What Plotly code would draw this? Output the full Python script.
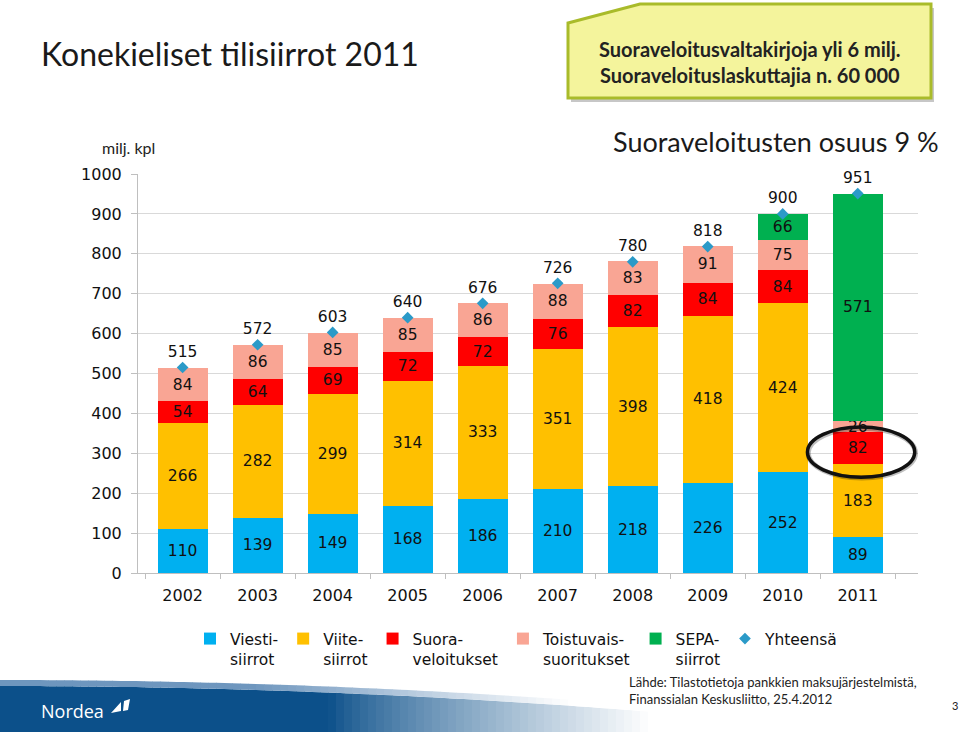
import plotly.graph_objects as go

# ---------------- data ----------------
years = ['2002', '2003', '2004', '2005', '2006', '2007', '2008', '2009', '2010', '2011']
viesti = [110, 139, 149, 168, 186, 210, 218, 226, 252, 89]
viite = [266, 282, 299, 314, 333, 351, 398, 418, 424, 183]
suora = [54, 64, 69, 72, 72, 76, 82, 84, 84, 82]
toistuvais = [84, 86, 85, 85, 86, 88, 83, 91, 75, 26]
sepa = [None, None, None, None, None, None, None, None, 66, 571]
yhteensa = [515, 572, 603, 640, 676, 726, 780, 818, 900, 951]

series_names = ['Viesti-<br>siirrot', 'Viite-<br>siirrot', 'Suora-<br>veloitukset',
                'Toistuvais-<br>suoritukset', 'SEPA-<br>siirrot']
series_colors = ['#00B0F0', '#FFC000', '#FF0000', '#F9A594', '#00B050']
total_name = 'Yhteensä'
total_color = '#2B9AC8'

# ---------------- geometry helpers (pixel -> paper) ----------------
L, R, T, B = 138, 918, 174, 573
W, H = 960, 732


def px(x):
    return (x - L) / (R - L)


def py(y):
    return (B - y) / (B - T)


CHART_FONT = 'DejaVu Sans'
TEXT_FONT = 'Lato'

fig = go.Figure()

for name, vals, col in zip(series_names, [viesti, viite, suora, toistuvais, sepa], series_colors):
    fig.add_trace(go.Bar(
        x=years, y=vals, name=name, marker=dict(color=col, line=dict(width=0)),
        text=vals, texttemplate='%{y}', textposition='inside', insidetextanchor='middle',
        textangle=0, insidetextfont=dict(color='#111111', size=15.5, family=CHART_FONT),
        constraintext='none', hoverinfo='skip',
    ))

# totals: markers (legend) + labels
fig.add_trace(go.Scatter(
    x=years, y=yhteensa, name=total_name, mode='markers',
    marker=dict(symbol='diamond', size=9, color=total_color), cliponaxis=False,
))
fig.add_trace(go.Scatter(
    x=years, y=yhteensa, mode='markers+text', showlegend=False,
    marker=dict(symbol='diamond', size=9, color='rgba(0,0,0,0)'),
    text=[str(v) for v in yhteensa], textposition='top center',
    textfont=dict(size=15.5, color='#111111', family=CHART_FONT), cliponaxis=False,
))

shapes = []

# Nordea footer band (gradient strips)
dark = (12, 80, 138)
step = 8
for x0 in range(0, 680, step):
    x1 = x0 + step
    xm = (x0 + x1) / 2
    t = min(max((xm - 330) / 320, 0), 1)
    t = t ** 0.8
    col = tuple(int(dark[i] + (255 - dark[i]) * t) for i in range(3))
    ytop0 = 686 + 14 * (x0 / 480) ** 2
    ytop1 = 686 + 14 * (x1 / 480) ** 2
    path = 'M {} {} L {} {} L {} {} L {} {} Z'.format(
        px(x0), py(ytop0), px(x1 + 0.5), py(ytop1), px(x1 + 0.5), py(H + 2), px(x0), py(H + 2))
    shapes.append(dict(type='path', xref='paper', yref='paper', path=path,
                       fillcolor='rgb({},{},{})'.format(*col), line=dict(width=0), layer='below'))
    # light rim on top of the band
    lt = min(max((xm - 250) / 320, 0), 1)
    lc = tuple(int(v + (255 - v) * lt) for v in (110, 150, 190))
    path2 = 'M {} {} L {} {} L {} {} L {} {} Z'.format(
        px(x0), py(ytop0 - 6), px(x1 + 0.5), py(ytop1 - 6), px(x1 + 0.5), py(ytop1), px(x0), py(ytop0))
    shapes.append(dict(type='path', xref='paper', yref='paper', path=path2,
                       fillcolor='rgb({},{},{})'.format(*lc), line=dict(width=0), layer='below'))

# Nordea sail logo
sail = 'M {} {} L {} {} L {} {} Z M {} {} L {} {} L {} {} L {} {} Z'.format(
    px(111), py(713), px(121), py(702), px(121), py(711),
    px(123), py(711), px(124), py(701), px(130), py(699), px(128), py(710))
shapes.append(dict(type='path', xref='paper', yref='paper', path=sail,
                   fillcolor='white', line=dict(width=0)))

# callout box (shadow + box)
def callout(dx, dy):
    pts = [(568, 23), (640, 4), (931, 4), (931, 98), (568, 98)]
    return 'M ' + ' L '.join('{} {}'.format(px(x + dx), py(y + dy)) for x, y in pts) + ' Z'


shapes.append(dict(type='path', xref='paper', yref='paper', path=callout(3, 4),
                   fillcolor='rgba(0,0,0,0.22)', line=dict(width=0)))
shapes.append(dict(type='path', xref='paper', yref='paper', path=callout(0, 0),
                   fillcolor='#F4F49C', line=dict(color='#A9BB2A', width=3)))

# ellipse highlight around 2011 Suora value
shapes.append(dict(type='circle', xref='x', yref='y', x0=8.34, x1=9.77, y0=238, y1=363,
                   line=dict(color='rgba(0,0,0,0.25)', width=5)))
shapes.append(dict(type='circle', xref='x', yref='y', x0=8.33, x1=9.76, y0=240, y1=366,
                   line=dict(color='#111111', width=3.5)))

annotations = [
    dict(text='Konekieliset tilisiirrot 2011', x=px(39), y=py(53), xref='paper', yref='paper',
         xanchor='left', yanchor='middle', showarrow=False,
         font=dict(family=TEXT_FONT, size=32, color='#1a1a1a')),
    dict(text='<b>Suoraveloitusvaltakirjoja yli 6 milj.<br>Suoraveloituslaskuttajia n. 60 000</b>',
         x=px(750), y=py(62), xref='paper', yref='paper', xanchor='center', yanchor='middle',
         showarrow=False, align='center',
         font=dict(family=TEXT_FONT, size=20, color='#222222')),
    dict(text='milj. kpl', x=px(100), y=py(148), xref='paper', yref='paper',
         xanchor='left', yanchor='middle', showarrow=False,
         font=dict(family=TEXT_FONT, size=16, color='#222222')),
    dict(text='Suoraveloitusten osuus 9 %', x=px(941), y=py(141), xref='paper', yref='paper',
         xanchor='right', yanchor='middle', showarrow=False,
         font=dict(family=TEXT_FONT, size=27, color='#1a1a1a')),
    dict(text='Lähde: Tilastotietoja pankkien maksujärjestelmistä,<br>Finanssialan Keskusliitto, 25.4.2012',
         x=px(627), y=py(690), xref='paper', yref='paper', xanchor='left', yanchor='middle',
         showarrow=False, align='left',
         font=dict(family=TEXT_FONT, size=13, color='#222222')),
    dict(text='Nordea', x=px(39), y=py(711), xref='paper', yref='paper', xanchor='left',
         yanchor='middle', showarrow=False,
         font=dict(family='Open Sans', size=18, color='white')),
    dict(text='3', x=px(955), y=py(705), xref='paper', yref='paper', xanchor='center',
         yanchor='middle', showarrow=False,
         font=dict(family=TEXT_FONT, size=11, color='#222222')),
]

fig.update_layout(
    width=W, height=H,
    margin=dict(l=L, r=W - R, t=T, b=H - B, autoexpand=False),
    paper_bgcolor='white', plot_bgcolor='white',
    barmode='stack', bargap=0.33,
    uniformtext=dict(mode='show', minsize=15.5),
    font=dict(family=CHART_FONT, size=15, color='#111111'),
    showlegend=True,
    legend=dict(orientation='h', x=px(190), y=py(622), xanchor='left', yanchor='top',
                valign='top', font=dict(family=CHART_FONT, size=15.5, color='#111111'),
                bgcolor='rgba(0,0,0,0)', traceorder='normal', itemwidth=30),
    xaxis=dict(type='category', showline=True, linecolor='#BFBFBF', linewidth=1,
               ticks='outside', tickson='boundaries', ticklen=5, tickcolor='#BFBFBF',
               ticklabelstandoff=8,
               showgrid=False, tickfont=dict(size=16, family=CHART_FONT, color='#111111')),
    yaxis=dict(range=[0, 1000], dtick=100, showline=True, linecolor='#BFBFBF', linewidth=1,
               ticks='outside', ticklen=6, tickcolor='#BFBFBF', showgrid=True,
               ticklabelstandoff=6,
               gridcolor='#D9D9D9', gridwidth=1, zeroline=False,
               tickfont=dict(size=16, family=CHART_FONT, color='#111111')),
    shapes=shapes, annotations=annotations,
)

fig.write_html('out.html')
